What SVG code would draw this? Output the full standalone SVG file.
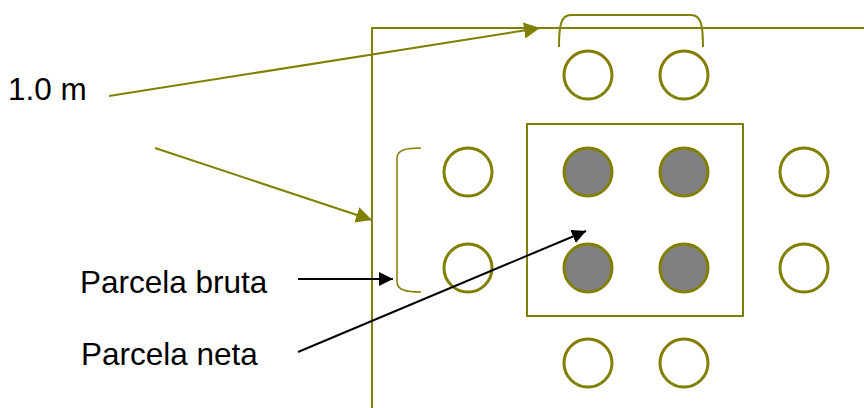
<svg xmlns="http://www.w3.org/2000/svg" width="864" height="408" viewBox="0 0 864 408">
<defs>
<style>
.ol{fill:none;stroke:#808000;stroke-width:2}
.pl{fill:#fff;stroke:#808000;stroke-width:3}
.net{fill:#808080;stroke:#808000;stroke-width:3}
.br{fill:none;stroke:#808000;stroke-width:1.5}
.lbl{font-family:"Liberation Sans",Arial,sans-serif;font-size:31.5px;fill:#000}
.ao{stroke:#808000;stroke-width:2;fill:none}
.ab{stroke:#000;stroke-width:2;fill:none}
</style>
<marker id="mb" viewBox="0 0 10 10" refX="10" refY="5" markerWidth="14" markerHeight="14" markerUnits="userSpaceOnUse" orient="auto"><path d="M0,0 L10,5 L0,10 z" fill="#000"/></marker>
<marker id="mo" viewBox="0 0 10 10" refX="10" refY="5" markerWidth="16" markerHeight="16" markerUnits="userSpaceOnUse" orient="auto"><path d="M0,0 L10,5 L0,10 z" fill="#808000"/></marker>
</defs>
<g id="frame">
<path class="ol" d="M372,408 V28 H864"/>
</g>
<g id="parcela-neta-box">
<rect class="ol" x="527" y="124" width="216" height="192"/>
</g>
<g id="brace-top"><path class="ol" d="M559,47 C559,25 561,15 571,15 H691 C701,15 703,25 703,47"/></g>
<g id="brace-left"><path class="br" d="M421,148 C406,148 397,150 397,158 V282 C397,290 406,292 421,292"/></g>
<g id="plants-border">
<circle class="pl" cx="588" cy="75" r="24"/>
<circle class="pl" cx="684" cy="75" r="24"/>
<circle class="pl" cx="468" cy="172" r="24"/>
<circle class="pl" cx="468" cy="268" r="24"/>
<circle class="pl" cx="804" cy="172" r="24"/>
<circle class="pl" cx="804" cy="268" r="24"/>
<circle class="pl" cx="588" cy="363" r="24"/>
<circle class="pl" cx="684" cy="363" r="24"/>
</g>
<g id="plants-net">
<circle class="net" cx="588" cy="172" r="24"/>
<circle class="net" cx="684" cy="172" r="24"/>
<circle class="net" cx="588" cy="268" r="24"/>
<circle class="net" cx="684" cy="268" r="24"/>
</g>
<g id="label-1m"><text class="lbl" x="8" y="100">1.0 m</text></g>
<g id="label-bruta"><text class="lbl" x="80" y="293">Parcela bruta</text></g>
<g id="label-neta"><text class="lbl" x="81" y="365">Parcela neta</text></g>
<g id="connectors">
<line class="ao" x1="109" y1="96" x2="540" y2="28" marker-end="url(#mo)"/>
<line class="ao" x1="155" y1="148" x2="372" y2="220" marker-end="url(#mo)"/>
<line class="ab" x1="298" y1="279" x2="393" y2="279" marker-end="url(#mb)"/>
<line class="ab" x1="298" y1="352" x2="586" y2="231" marker-end="url(#mb)"/>
</g>
</svg>
